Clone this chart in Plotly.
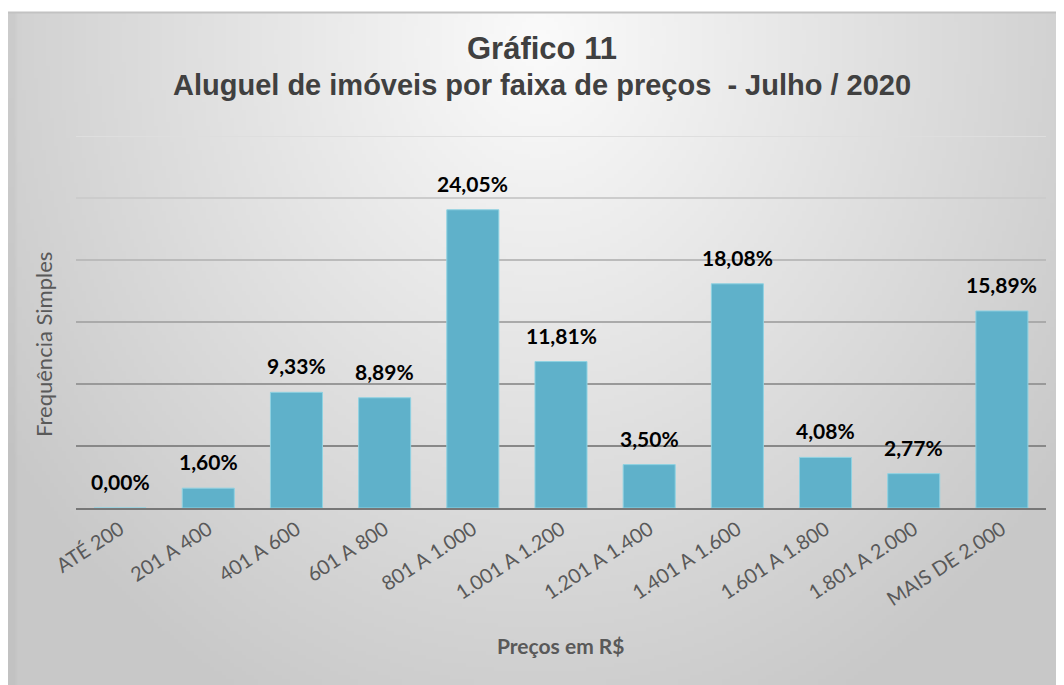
import base64, struct, zlib
import numpy as np
import plotly.graph_objects as go

# ---------------- data ----------------
categories = ["ATÉ 200", "201 A 400", "401 A 600", "601 A 800", "801 A 1.000",
              "1.001 A 1.200", "1.201 A 1.400", "1.401 A 1.600", "1.601 A 1.800",
              "1.801 A 2.000", "MAIS DE 2.000"]
values = [0.00, 1.60, 9.33, 8.89, 24.05, 11.81, 3.50, 18.08, 4.08, 2.77, 15.89]
grid_values = [5, 10, 15, 20, 25, 30]

title_line1 = "Gráfico 11"
title_line2 = "Aluguel de imóveis por faixa de preços  - Julho / 2020"
x_title = "Preços em R$"
y_title = "Frequência Simples"

# ---------------- layout geometry (pixels, page body has an 8px margin) ----------------
OFF = 8
W, H = 1064 - OFF, 685 - OFF
L, R, T, B = 76 - OFF, 18, 136 - OFF, 177
PW, PH = W - L - R, H - T - B


def px_to_paper_x(px):
    return (px - OFF - L) / PW


def px_to_paper_y(py):
    return (H - B - (py - OFF)) / PH


# ---------------- gradient background image ----------------
def make_png(arr):
    h, w = arr.shape
    raw = b"".join(b"\x00" + bytes(arr[i].astype(np.uint8)) for i in range(h))

    def chunk(tag, data):
        c = struct.pack(">I", len(data)) + tag + data
        return c + struct.pack(">I", zlib.crc32(tag + data) & 0xffffffff)
    png = b"\x89PNG\r\n\x1a\n"
    png += chunk(b"IHDR", struct.pack(">IIBBBBB", w, h, 8, 0, 0, 0, 0))
    png += chunk(b"IDAT", zlib.compress(raw, 9))
    png += chunk(b"IEND", b"")
    return "data:image/png;base64," + base64.b64encode(png).decode()


fx0, fy0, fx1, fy1 = 8, 12, 1064, 685  # frame in absolute pixels
iw, ih = (fx1 - fx0) // 4, (fy1 - fy0) // 4
xs = np.linspace(fx0, fx1, iw)[None, :]
ys = np.linspace(fy0, fy1, ih)[:, None]
d = np.sqrt(((xs - 540) / 560.0) ** 2 + ((ys - 40) / 650.0) ** 2)
d = np.clip(d, 0, 1.15)
grad = 251 - 44 * d
grad[:, :2] -= 6
img_src = make_png(np.clip(grad, 0, 255))

fig = go.Figure()

fig.add_trace(go.Bar(
    x=categories, y=values,
    marker=dict(color="#5FB1CA", line=dict(color="#8FD2E2", width=1)),
    width=0.59,
    hoverinfo="x+y",
))

annotations = []
for c, v in zip(categories, values):
    annotations.append(dict(
        x=c, y=v, xref="x", yref="y", yanchor="bottom", yshift=12,
        text="<b>" + f"{v:.2f}%".replace(".", ",") + "</b>", showarrow=False,
        font=dict(family="Lato, Carlito, sans-serif", size=21, color="#000000"),
    ))

annotations += [
    dict(x=px_to_paper_x(542), y=px_to_paper_y(48), xref="paper", yref="paper",
         xanchor="center", yanchor="middle",
         text=f"<b>{title_line1}</b>", showarrow=False,
         font=dict(family="Liberation Sans, Arial, sans-serif", size=31, color="#404040")),
    dict(x=px_to_paper_x(542), y=px_to_paper_y(85), xref="paper", yref="paper",
         xanchor="center", yanchor="middle",
         text=f"<b>{title_line2}</b>", showarrow=False,
         font=dict(family="Liberation Sans, Arial, sans-serif", size=29, color="#404040")),
    dict(x=px_to_paper_x(561), y=px_to_paper_y(645), xref="paper", yref="paper",
         xanchor="center", yanchor="middle",
         text=f"<b>{x_title}</b>", showarrow=False,
         font=dict(family="Lato, Carlito, sans-serif", size=21, color="#595959")),
    dict(x=px_to_paper_x(43), y=px_to_paper_y(345), xref="paper", yref="paper",
         xanchor="center", yanchor="middle",
         text=y_title, showarrow=False, textangle=-90,
         font=dict(family="Lato, Carlito, sans-serif", size=22, color="#595959")),
]

shapes = []
# top shadow line of the frame
shapes.append(dict(type="line", xref="paper", yref="paper",
                   x0=px_to_paper_x(fx0), x1=px_to_paper_x(fx1),
                   y0=px_to_paper_y(fy0 + 0.5), y1=px_to_paper_y(fy0 + 0.5),
                   line=dict(color="#C2C2C2", width=2), layer="below"))
# gridlines fading upwards
for i, g in enumerate(grid_values):
    t = i / (len(grid_values) - 1)
    c = int(136 + t * (222 - 136))
    shapes.append(dict(type="line", xref="paper", yref="y", x0=0, x1=1, y0=g, y1=g,
                       line=dict(color=f"rgb({c},{c},{c})", width=2), layer="below"))

fig.update_layout(
    width=W, height=H,
    margin=dict(l=L, r=R, t=T, b=B, pad=0),
    paper_bgcolor="white",
    plot_bgcolor="rgba(0,0,0,0)",
    showlegend=False,
    bargap=0.41,
    annotations=annotations,
    shapes=shapes,
    images=[dict(source=img_src, xref="paper", yref="paper",
                 x=px_to_paper_x(fx0), y=px_to_paper_y(fy0),
                 sizex=px_to_paper_x(fx1) - px_to_paper_x(fx0),
                 sizey=px_to_paper_y(fy0) - px_to_paper_y(fy1),
                 xanchor="left", yanchor="top", sizing="stretch", layer="below")],
    xaxis=dict(
        type="category", tickangle=-33, showgrid=False, zeroline=False,
        showline=True, linecolor="#777777", linewidth=2, ticks="",
        tickfont=dict(family="Lato, Carlito, sans-serif", size=20, color="#595959"),
        fixedrange=True,
    ),
    yaxis=dict(range=[0, 30], showgrid=False, zeroline=False, showticklabels=False,
               showline=False, fixedrange=True),
)

fig.write_html("out.html")
